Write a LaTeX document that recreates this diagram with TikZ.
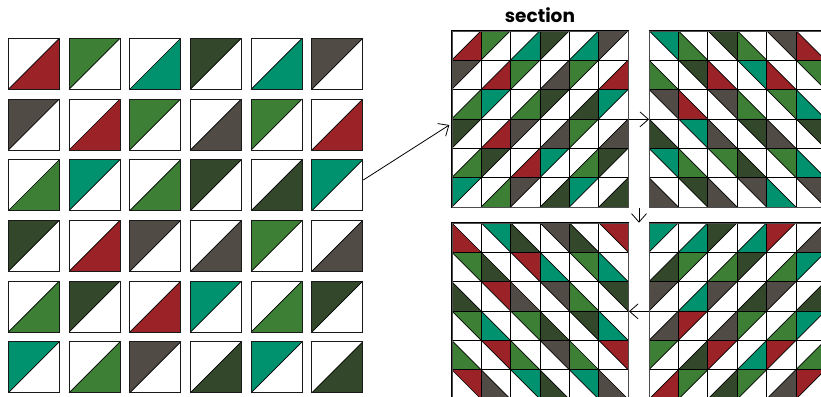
\documentclass[tikz,border=0pt]{standalone}
\usepackage{fontspec}
\newfontfamily\popfont{Poppins}
\usetikzlibrary{arrows.meta,calc}
\definecolor{cR}{HTML}{9B2226}
\definecolor{cG}{HTML}{3C7F35}
\definecolor{cT}{HTML}{00916E}
\definecolor{cD}{HTML}{33472A}
\definecolor{cY}{HTML}{504B45}
\tikzset{
  diag/.style={black,line width=0.7pt},
  cellframe/.style={draw=black,line width=0.7pt},
  tileframe/.style={draw=black!90,line width=0.9pt},
  blockframe/.style={draw=black!70,line width=0.9pt,minimum size=176.4pt,inner sep=0pt,anchor=north west},
  flow/.style={draw=black,line width=0.8pt,-{Straight Barb[length=8.5pt,width=15pt]}},
}
% #1 x, #2 y, #3 size, #4 type (1 UL, 2 LR, 3 UR, 4 LL), #5 colour, #6 frame style
\newcommand\drawcell[6]{%
  \fill[white] (#1,#2) rectangle ++(#3,#3);
  \ifcase#4\or
    \fill[#5] (#1,#2) -- ++(#3,0) -- ++(-#3,#3) -- cycle;
    \draw[diag] (#1,#2) ++(0,#3) -- ++(#3,-#3);
  \or
    \fill[#5] (#1,#2) ++(#3,0) -- ++(0,#3) -- ++(-#3,0) -- cycle;
    \draw[diag] (#1,#2) ++(0,#3) -- ++(#3,-#3);
  \or
    \fill[#5] (#1,#2) -- ++(#3,0) -- ++(0,#3) -- cycle;
    \draw[diag] (#1,#2) -- ++(#3,#3);
  \or
    \fill[#5] (#1,#2) -- ++(0,#3) -- ++(#3,0) -- cycle;
    \draw[diag] (#1,#2) -- ++(#3,#3);
  \fi
  \draw[#6] (#1,#2) rectangle ++(#3,#3);
}
% #1 x0, #2 y0, #3 size, #4 pitch, #5 type for even parity, #6 type for odd, #7 rows, #8 frame style
\newcommand\drawblock[8]{%
  \foreach \rowlist [count=\r] in {#7} {
    \foreach \col [count=\c] in \rowlist {
      \pgfmathtruncatemacro\pty{mod(\r+\c,2)}
      \pgfmathsetmacro\cx{#1+#4*(\c-1)}
      \pgfmathsetmacro\cy{#2+#4*(\r-1)}
      \ifnum\pty=0 \def\ty{#5}\else\def\ty{#6}\fi
      \drawcell{\cx}{\cy}{#3}{\ty}{c\col}{#8}
    }
  }
}
\begin{document}
\begin{tikzpicture}[x=1pt,y=-1pt]
\useasboundingbox (0,0) rectangle (821,396);
\clip (0,0) rectangle (821,396);
\fill[white] (0,0) rectangle (821,396);
% left grid of tiles
\drawblock{8.3}{38.3}{51}{60.7}{2}{1}{{R,G,T,D,T,Y},{Y,R,G,Y,G,R},{G,T,G,D,D,T},{D,R,Y,Y,G,Y},{G,D,R,T,G,D},{T,G,Y,D,T,D}}{tileframe}
\node[minimum width=354.5pt,minimum height=354pt,inner sep=0pt,anchor=north west] (L) at (8.3,38.3) {};
% section block 1
\drawblock{451.7}{30.7}{29.4}{29.4}{2}{1}{{R,G,T,D,T,Y},{Y,R,G,Y,G,R},{G,T,G,D,D,T},{D,R,Y,Y,G,Y},{G,D,R,T,G,D},{T,G,Y,D,T,D}}{cellframe}
\node[blockframe] (b1) at (451.7,30.7) {};
% block 2
\drawblock{649}{30.7}{29.4}{29.4}{3}{4}{{T,G,D,G,Y,R},{G,D,R,T,R,G},{Y,R,Y,G,G,T},{D,T,Y,D,Y,D},{T,G,G,D,G,T},{Y,D,Y,Y,T,Y}}{cellframe}
\node[blockframe] (b2) at (649,30.7) {};
% block 3
\drawblock{451.7}{222.7}{29.4}{29.4}{4}{3}{{R,T,D,Y,D,R},{G,D,R,T,G,T},{D,R,Y,Y,G,D},{G,T,G,D,D,T},{G,R,G,Y,G,R},{R,Y,T,D,T,Y}}{cellframe}
\node[blockframe] (b3) at (451.7,222.7) {};
% block 4
\drawblock{649}{222.7}{29.4}{29.4}{1}{2}{{T,T,D,T,R,Y},{D,G,G,D,G,T},{Y,T,Y,D,Y,D},{Y,R,Y,G,G,T},{G,D,R,T,R,G},{R,G,D,G,Y,R}}{cellframe}
\node[blockframe] (b4) at (649,222.7) {};
% title
\node[font=\popfont\bfseries\fontsize{18.5}{22}\selectfont,anchor=base,inner sep=0pt] (title) at (539.9,22.5) {section};
% connectors
\coordinate (a1s) at (363.3,180);
\coordinate (a1e) at (449.3,125);
\draw[flow] (a1s) -- (a1e);
\draw[flow] (b1.east) -- (b2.west);
\draw[flow] ($(b1.south east)!0.5!(b2.south west)$) -- ($(b3.north east)!0.5!(b4.north west)$);
\draw[flow] (b4.west) -- (b3.east);
\end{tikzpicture}
\end{document}
